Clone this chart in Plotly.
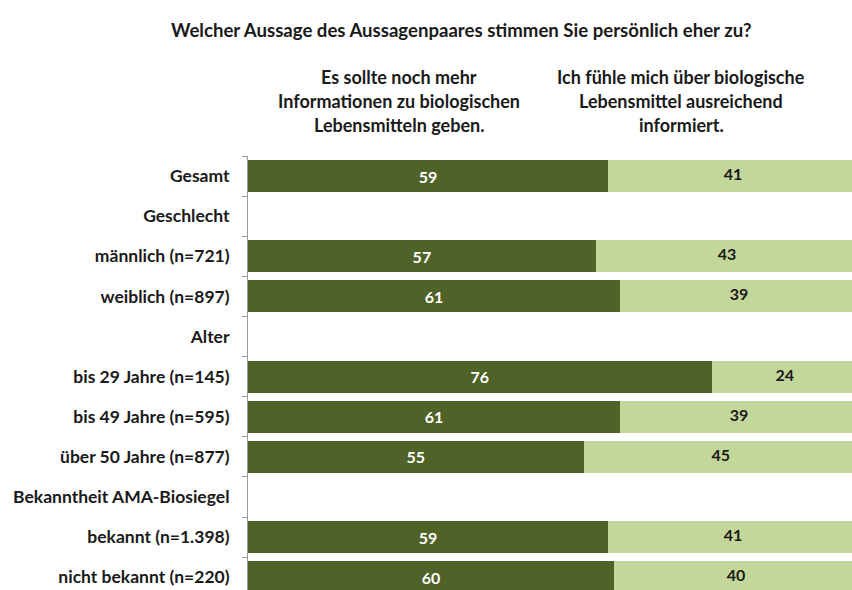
import plotly.graph_objects as go

# Survey rows (top to bottom); group headings carry no values
categories = [
    "Gesamt",
    "Geschlecht",
    "männlich (n=721)",
    "weiblich (n=897)",
    "Alter",
    "bis 29 Jahre (n=145)",
    "bis 49 Jahre (n=595)",
    "über 50 Jahre (n=877)",
    "Bekanntheit AMA-Biosiegel",
    "bekannt (n=1.398)",
    "nicht bekannt (n=220)",
]
mehr_info = [59, None, 57, 61, None, 76, 61, 55, None, 59, 60]
ausreichend = [41, None, 43, 39, None, 24, 39, 45, None, 41, 40]

title_text = "Welcher Aussage des Aussagenpaares stimmen Sie persönlich eher zu?"
header_left = ["Es sollte noch mehr", "Informationen zu biologischen", "Lebensmitteln geben."]
header_right = ["Ich fühle mich über biologische", "Lebensmittel ausreichend", "informiert."]

DARK = "#4f6228"
LIGHT = "#c4d79b"
FONT = "Lato"
TXT = "#1a1a1a"

W, H = 852, 590
M_L, M_T, M_R, M_B = 248, 156, 0, 0
plot_h = H - M_T - M_B
plot_w = W - M_L - M_R

fig = go.Figure()

fig.add_trace(go.Bar(
    y=categories, x=mehr_info, orientation="h",
    marker=dict(color=DARK, line=dict(width=0)),
    width=0.8,
    text=[("" if v is None else str(v)) for v in mehr_info],
    textposition="inside", insidetextanchor="middle",
    textfont=dict(family=FONT, size=16, color="white", weight="bold"),
    hoverinfo="skip",
))
fig.add_trace(go.Bar(
    y=categories, x=ausreichend, orientation="h",
    marker=dict(color=LIGHT, line=dict(width=0)),
    width=0.8,
    hoverinfo="skip",
))

# Labels for the light segments, centred on the full segment
lab_x, lab_y, lab_t = [], [], []
for c, a, b in zip(categories, mehr_info, ausreichend):
    if a is None or b is None:
        continue
    lab_x.append(a + b / 2)
    lab_y.append(c)
    lab_t.append(str(b))
fig.add_trace(go.Scatter(
    x=lab_x, y=lab_y, text=lab_t, mode="text",
    textfont=dict(family=FONT, size=16, color=TXT, weight="bold"),
    hoverinfo="skip",
))


def py(px):
    return (H - M_B - px) / plot_h


def pxx(px):
    return (px - M_L) / plot_w


annotations = [dict(
    text=title_text, x=pxx(461), y=py(30), xref="paper", yref="paper",
    showarrow=False, xanchor="center", yanchor="middle",
    font=dict(family=FONT, size=18.6, color=TXT, weight="bold"),
)]
for i, line in enumerate(header_left):
    annotations.append(dict(
        text=line, x=pxx(399), y=py(77 + 24 * i), xref="paper", yref="paper",
        showarrow=False, xanchor="center", yanchor="middle",
        font=dict(family=FONT, size=18, color=TXT, weight="bold"),
    ))
for i, line in enumerate(header_right):
    annotations.append(dict(
        text=line, x=pxx(681), y=py(77 + 24 * i), xref="paper", yref="paper",
        showarrow=False, xanchor="center", yanchor="middle",
        font=dict(family=FONT, size=18, color=TXT, weight="bold"),
    ))

fig.update_layout(
    width=W, height=H,
    margin=dict(l=M_L, r=M_R, t=M_T, b=M_B),
    barmode="stack",
    bargap=0.2,
    showlegend=False,
    plot_bgcolor="white", paper_bgcolor="white",
    annotations=annotations,
    xaxis=dict(range=[0, 99.0], visible=False, fixedrange=True),
    yaxis=dict(
        type="category",
        categoryorder="array", categoryarray=categories,
        range=[10.32, -0.5],
        showline=True, linecolor="#9a9a9a", linewidth=1,
        ticks="outside", tickson="boundaries", ticklen=5, tickcolor="#9a9a9a",
        ticklabelstandoff=14,
        tickfont=dict(family=FONT, size=17.5, color=TXT, weight="bold"),
        showgrid=False, zeroline=False, fixedrange=True,
    ),
)

fig.write_html("out.html", config={"displayModeBar": False})
